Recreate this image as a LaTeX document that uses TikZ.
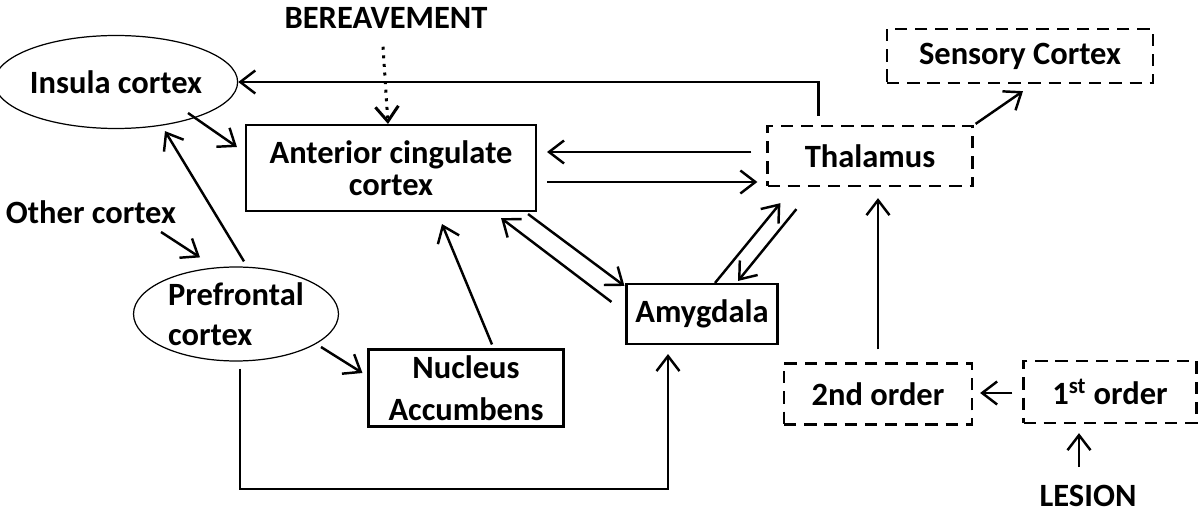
\documentclass[tikz,border=0pt]{standalone}
\usepackage{fontspec}
\setmainfont{Carlito}
\usetikzlibrary{shapes.geometric,arrows.meta,calc}

\begin{document}
\begin{tikzpicture}[x=0.02cm, y=-0.02cm,
		>={Straight Barb[length=3mm,width=4.6mm]},
		every node/.style={font=\bfseries\fontsize{18.5}{22}\selectfont},
		box/.style={draw, line width=1.2pt, inner sep=0pt},
		dbox/.style={draw, line width=1.3pt, dash pattern=on 7pt off 4.5pt, inner sep=0pt},
		oval/.style={draw, ellipse, line width=0.7pt, inner sep=0pt},
		link/.style={->, line width=1.4pt}]
	\useasboundingbox (0,0) rectangle (1200,513);

	\node (bereave) at (386,18) {BEREAVEMENT};
	\node[oval, minimum width=4.18cm, minimum height=1.86cm] (insula) at (116,82) {Insula cortex};
	\node[box, minimum width=5.8cm, minimum height=1.72cm, align=center] (acc) at (391,168) {Anterior cingulate\\[-4pt]cortex};
	\node[dbox, minimum width=4.1cm, minimum height=1.2cm] (thal) at (870,156) {Thalamus};
	\node[dbox, minimum width=5.32cm, minimum height=1.08cm] (sens) at (1020,56) {Sensory Cortex};
	\node (other) at (91,212) {Other cortex};
	\node[oval, minimum width=4.1cm, minimum height=1.88cm, align=left] (pfc) at (236,314) {Prefrontal\\[1pt]cortex};
	\node[box, minimum width=3.9cm, minimum height=1.54cm, align=center] (nac) at (466,388) {Nucleus\\[2pt]Accumbens};
	\node[box, minimum width=3.02cm, minimum height=1.2cm] (amy) at (702,314) {Amygdala};
	\node[dbox, minimum width=3.76cm, minimum height=1.22cm] (second) at (878,394) {2nd order};
	\node[dbox, minimum width=3.46cm, minimum height=1.24cm] (first) at (1110,392) {1\textsuperscript{st} order};
	\node (lesion) at (1088,496) {LESION};

	% top row
	\draw[link, line width=1.7pt, dash pattern=on 1.7pt off 3.2pt] ($(bereave.south)+(-3,12)$) -- ($(acc.north)+(-3,0)$);
	\draw[link] ($(thal.north west)+(52,-9)$) |- (insula.east);
	\draw[link] ($(insula.center)+(72,31)$) -- ($(acc.west)+(-8,-21)$);
	\draw[link] ($(thal.west)+(-15,-4)$) -- ($(acc.east)+(10,-16)$);
	\draw[link] ($(acc.east)+(10,14)$) -- ($(thal.west)+(-9,26)$);
	\draw[link] ($(thal.north east)+(2,-1)$) -- ($(sens.south)+(3,7)$);

	% prefrontal
	\draw[link] ($(other.center)+(70,20)$) -- ($(pfc.north)+(-36,-9)$);
	\draw[link] ($(pfc.north)+(8,-5)$) -- ($(insula.south)+(49,2)$);
	\draw[link] ($(pfc.center)+(85,33)$) -- ($(nac.west)+(-5,-15)$);
	\draw[link] ($(nac.north)+(26,-4)$) -- ($(acc.south)+(51,12)$);
	\draw[link] ($(pfc.south)+(4,7)$) |- ($(amy.south)+(-34,144)$) -- ($(amy.south)+(-34,9)$);

	% amygdala
	\draw[link] ($(acc.south east)+(-9,2)$) -- ($(amy.north west)+(-1,3)$);
	\draw[link] ($(amy.north west)+(-14,19)$) -- ($(acc.south east)+(-36,6)$);
	\draw[link] ($(amy.north)+(13,0)$) -- ($(thal.south west)+(14,16)$);
	\draw[link] ($(thal.south west)+(30,22)$) -- ($(amy.north)+(36,-2)$);

	% lesion side
	\draw[link] ($(second.north)+(0,-13)$) -- ($(thal.south)+(8,11)$);
	\draw[link] ($(first.west)+(-10,1)$) -- ($(second.east)+(7,-1)$);
	\draw[link] ($(lesion.north)+(-9,-12)$) -- ($(first.south)+(-31,9)$);
\end{tikzpicture}
\end{document}
